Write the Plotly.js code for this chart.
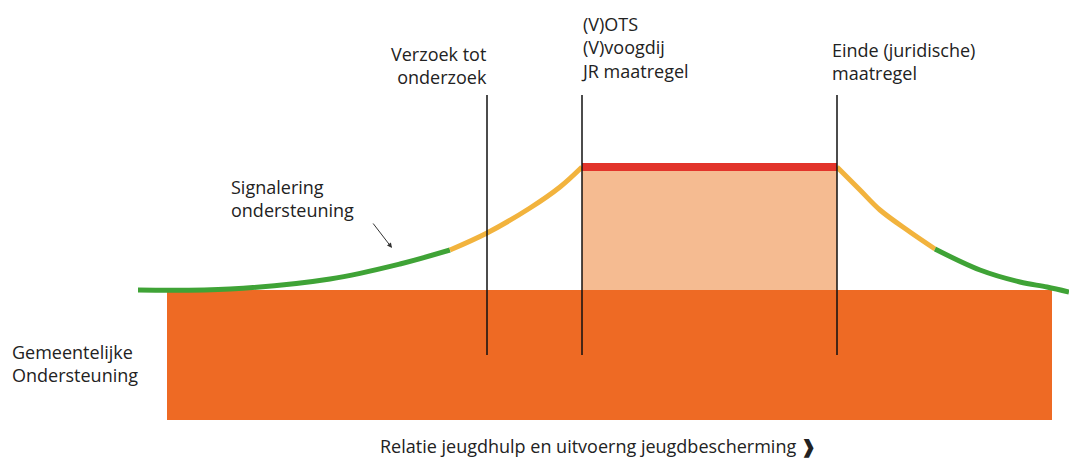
<!DOCTYPE html>
<html>
<head>
<meta charset="utf-8">
<script src="https://cdn.plot.ly/plotly-3.0.1.min.js"></script>
<style>html,body{margin:0;padding:0;background:#fff;}#chart{width:1069px;height:462px;}</style>
</head>
<body>
<div id="chart"></div>
<script>
// Schematic values (chart units: horizontal progress, vertical level; axis reversed)
const baseBlockX = [167, 1052];          // Gemeentelijke ondersteuning block
const baseBlockY = [290, 420];
const measureBlockX = [582, 837];        // juridische maatregel period
const measureBlockY = [167, 290];

const riseGreenX  = [138, 230, 330, 400, 450];
const riseGreenY  = [290, 289, 279, 264, 250];
const riseYellowX = [450, 487, 530, 560, 582];
const riseYellowY = [250, 233, 208, 187, 167];
const fallYellowX = [837, 860, 880, 910, 935];
const fallYellowY = [167, 190, 210, 232, 249];
const fallGreenX  = [935, 980, 1020, 1047, 1069];
const fallGreenY  = [249, 270, 282, 287, 292];

const markerX = [487, 582, 837];
const markerY = [95, 355];

const labels = [
  {text: "Verzoek tot<br>onderzoek", x: 489, y: 65, anchor: "right"},
  {text: "(V)OTS<br>(V)voogdij<br>JR maatregel", x: 579, y: 47, anchor: "left"},
  {text: "Einde (juridische)<br>maatregel", x: 830, y: 61, anchor: "left"},
  {text: "Signalering<br>ondersteuning", x: 229, y: 198, anchor: "left"},
  {text: "Gemeentelijke<br>Ondersteuning", x: 10, y: 363, anchor: "left"}
];
const xTitle = "Relatie jeugdhulp en uitvoerng jeugdbescherming <b>❱</b>";

const C = {orange: "#EE6A24", peach: "#F5BB91", red: "#E2342A", yellow: "#F2B33D", green: "#3FA336", ink: "#222"};
const FONT = {family: "Open Sans, sans-serif", size: 18, color: C.ink};

function rect(xs, ys, color) {
  return {x: [xs[0], xs[1], xs[1], xs[0], xs[0]], y: [ys[0], ys[0], ys[1], ys[1], ys[0]],
    mode: "lines", fill: "toself", fillcolor: color, line: {width: 0, color: color}, type: "scatter"};
}
function curve(xs, ys, color) {
  return {x: xs, y: ys, mode: "lines", line: {color: color, width: 5, shape: "spline"}, type: "scatter"};
}

const traces = [
  rect(baseBlockX, baseBlockY, C.orange),
  rect(measureBlockX, measureBlockY, C.peach),
  curve(riseGreenX, riseGreenY, C.green),
  curve(riseYellowX, riseYellowY, C.yellow),
  curve(fallYellowX, fallYellowY, C.yellow),
  curve(fallGreenX, fallGreenY, C.green),
  {x: measureBlockX, y: [measureBlockY[0], measureBlockY[0]], mode: "lines", line: {color: C.red, width: 8}, type: "scatter"}
];
markerX.forEach(mx => traces.push({x: [mx, mx], y: markerY, mode: "lines", line: {color: "#111", width: 1.5}, type: "scatter"}));

const annotations = labels.map(l => ({
  text: l.text, x: l.x, y: l.y, xref: "x", yref: "y", xanchor: l.anchor, yanchor: "middle",
  align: l.anchor, showarrow: false, font: FONT
}));
annotations.push({x: 392, y: 248, ax: 372, ay: 222, axref: "x", ayref: "y", xref: "x", yref: "y",
  showarrow: true, arrowhead: 2, arrowsize: 1, arrowwidth: 1, arrowcolor: "#333", text: ""});
annotations.push({text: xTitle, x: 598, y: 446, xref: "x", yref: "y", xanchor: "center", yanchor: "middle",
  showarrow: false, font: FONT});

const layout = {
  width: 1069, height: 462, margin: {l: 0, r: 0, t: 0, b: 0},
  paper_bgcolor: "#fff", plot_bgcolor: "#fff", showlegend: false, hovermode: false,
  xaxis: {range: [0, 1069], visible: false, fixedrange: true},
  yaxis: {range: [462, 0], visible: false, fixedrange: true},
  annotations: annotations
};
Plotly.newPlot("chart", traces, layout, {displayModeBar: false, staticPlot: true});
</script>
</body>
</html>
